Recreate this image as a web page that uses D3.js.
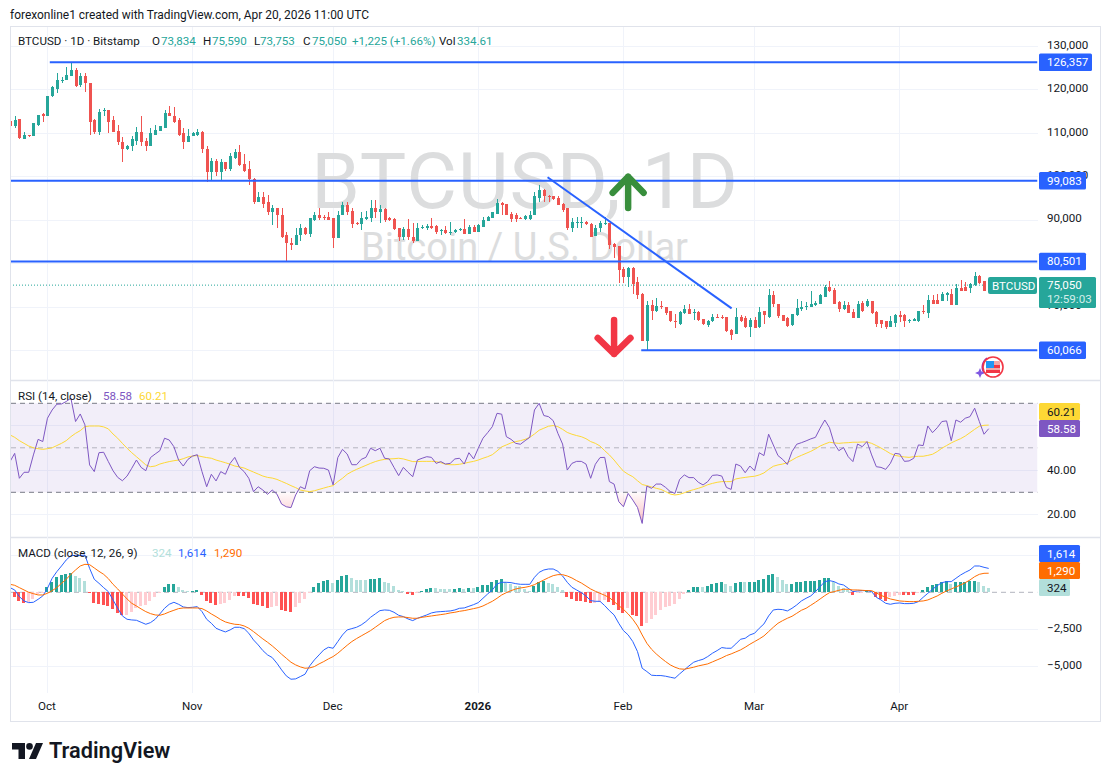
<!DOCTYPE html>
<html><head><meta charset="utf-8">
<script src="https://cdn.jsdelivr.net/npm/d3@7/dist/d3.min.js"></script>
<style>html,body{margin:0;padding:0;background:#fff}svg{display:block}text{font-family:Roboto,sans-serif;font-size:11.6px;fill:#131722}</style>
</head><body><svg id="c" width="1110" height="781"></svg>
<script>
// ---- DATA (prices in thousands of USD, one entry per daily bar) ----
const openK=[112.8,111.8,113.4,108.8,109.6,109.4,112.0,114.4,113.9,118.6,
120.3,122.2,122.2,123.3,124.7,121.2,123.3,121.7,113.0,110.4,
115.2,115.3,113.0,110.6,108.1,106.3,107.0,108.3,110.4,108.3,
107.2,109.7,110.6,111.3,114.6,114.1,113.0,110.0,108.1,109.3,
109.6,110.4,106.5,101.2,103.7,101.0,103.3,101.9,104.4,105.8,
103.0,101.7,99.6,94.3,95.4,94.1,91.8,92.9,91.3,86.5,
84.8,84.4,86.5,88.1,86.9,90.1,91.3,90.8,90.8,90.4,
86.0,91.2,93.5,92.2,89.3,89.2,90.3,90.6,92.8,92.0,
92.5,90.4,90.3,88.2,86.1,88.0,86.2,85.2,88.1,88.2,
88.7,88.7,87.5,87.8,87.2,87.2,87.8,88.0,86.9,88.5,
87.3,88.5,89.9,90.6,91.5,93.9,93.7,91.5,91.2,90.6,
90.3,90.3,91.2,95.2,97.0,95.6,95.6,95.2,93.8,92.7,
88.2,89.3,89.3,89.7,89.2,86.4,88.2,89.2,89.3,84.5,
84.1,78.8,76.9,78.9,75.8,73.0,62.3,70.4,69.0,70.2,
70.1,69.0,66.9,66.0,68.6,69.6,68.6,68.8,67.3,65.8,
66.7,67.8,67.8,67.6,64.8,63.7,67.8,67.5,65.3,67.1,
65.4,69.0,67.8,72.7,70.8,68.1,67.5,65.8,68.1,69.5,
70.0,70.1,70.4,70.8,72.4,74.7,74.0,71.1,69.6,70.4,
68.8,67.5,71.0,70.2,71.3,68.8,67.1,66.7,65.5,66.4,
68.2,68.2,66.9,66.9,66.8,69.1,68.6,71.7,71.7,71.5,
72.7,73.1,70.4,74.4,74.6,74.4,75.0,77.1,76.1,73.834];
const highK=[112.8,113.9,113.4,110.4,109.6,112.3,114.3,114.8,118.7,121.0,
124.0,122.9,125.2,126.3,125.1,123.9,123.8,121.7,113.4,115.7,
115.9,115.4,113.9,112.0,109.1,107.4,109.4,111.5,114.0,109.0,
111.2,112.0,111.8,115.4,116.3,116.0,113.6,111.3,111.0,110.4,
111.0,110.6,107.2,104.3,104.0,104.0,103.3,105.4,106.5,107.4,
105.3,103.7,99.8,96.4,96.4,95.9,93.6,92.9,92.9,87.4,
85.8,88.1,89.1,88.4,90.6,91.8,92.9,91.1,92.0,90.4,
92.2,94.1,94.1,92.8,89.7,92.0,92.1,94.7,94.7,93.5,
92.8,90.7,90.5,88.2,88.5,90.2,89.3,89.3,88.8,89.1,
90.6,88.9,88.0,88.7,89.5,88.0,88.2,90.2,88.9,88.9,
89.2,90.8,91.0,92.0,94.9,94.3,93.7,91.8,91.6,90.7,
91.2,92.2,96.5,98.1,97.1,95.8,95.6,95.5,93.9,92.8,
90.5,90.7,90.8,89.9,89.3,88.8,89.8,90.7,89.3,84.7,
84.1,79.2,79.2,79.2,76.9,73.2,71.5,71.6,72.1,71.5,
70.1,69.2,68.3,69.0,70.4,70.8,69.6,69.2,67.3,67.1,
68.3,68.3,68.1,67.6,65.0,69.8,68.1,68.0,67.5,67.7,
70.1,69.2,74.1,73.6,70.8,68.1,67.8,68.5,71.8,71.3,
71.1,73.8,71.3,73.1,75.1,75.9,74.4,71.5,71.3,71.1,
69.5,71.5,71.5,71.9,71.3,69.0,67.1,66.9,68.0,68.4,
69.2,68.3,67.3,67.5,69.1,70.4,72.7,72.7,73.1,73.4,
73.4,74.1,75.4,76.3,75.7,75.5,78.1,77.3,76.1,75.59];
const lowK=[111.8,111.2,108.6,108.6,109.1,109.3,111.6,112.7,113.9,118.3,
119.4,121.6,122.2,123.2,120.6,120.6,119.6,109.7,109.9,109.7,
113.9,110.0,110.2,107.4,103.5,106.2,106.0,107.4,107.2,106.0,
107.2,109.7,110.6,111.3,113.9,112.3,109.4,106.3,108.1,109.3,
109.5,105.4,98.8,99.0,100.2,99.0,101.4,101.4,104.2,102.4,
101.0,98.0,93.8,94.2,92.9,91.1,88.8,88.3,86.0,80.5,
83.2,84.4,85.1,86.5,86.2,89.9,90.1,90.1,90.1,83.7,
86.0,91.1,91.2,88.3,88.9,87.8,90.1,89.7,90.5,89.3,
89.5,89.8,87.8,85.3,85.5,85.5,84.7,85.2,87.9,87.8,
87.9,86.9,86.5,86.9,86.6,87.1,87.6,86.9,86.9,87.2,
87.2,88.5,89.8,90.5,91.4,91.3,91.2,89.5,89.7,90.3,
90.1,90.1,91.1,94.3,94.3,94.3,94.7,93.5,91.8,87.8,
87.4,88.2,88.2,88.9,86.1,86.4,87.4,88.9,83.3,81.2,
75.6,75.6,74.7,72.9,71.8,62.4,60.1,67.1,68.8,69.6,
68.1,66.5,65.1,65.8,68.4,68.3,67.1,66.9,65.8,65.5,
66.5,67.4,67.2,64.2,62.5,63.7,66.5,65.2,63.0,65.1,
65.2,66.0,67.5,70.0,67.5,66.8,65.5,65.7,68.0,69.0,
69.4,70.1,70.2,70.8,72.3,73.4,70.6,68.9,69.4,68.6,
67.4,67.4,68.9,70.1,68.5,65.4,65.2,64.9,65.5,65.5,
66.5,65.5,66.3,66.8,66.5,68.5,67.5,70.6,70.6,71.3,
71.5,70.4,70.4,73.8,73.7,73.2,74.8,75.4,73.7,73.753];
const closeK=[111.8,113.1,108.9,109.7,109.4,112.3,114.3,114.0,118.7,120.6,
122.2,122.4,123.5,124.7,121.0,123.3,121.6,112.7,110.4,115.0,
115.3,112.7,110.4,107.9,106.3,107.2,108.6,110.4,108.1,107.2,
110.0,110.8,111.6,114.6,113.9,112.7,109.7,108.1,109.5,110.0,
110.4,106.3,101.2,103.7,101.0,103.3,101.9,104.7,105.8,102.8,
101.4,99.4,94.3,95.4,93.8,91.8,92.9,91.1,86.2,84.8,
84.4,86.7,88.1,86.9,90.4,91.3,90.6,90.6,90.1,86.0,
91.3,93.5,92.0,89.2,89.2,90.5,90.8,92.8,92.0,92.5,
90.1,90.1,88.0,86.1,88.0,86.1,85.2,88.2,88.4,88.7,
88.3,87.4,87.8,87.0,87.4,87.8,88.0,86.9,88.5,87.3,
88.8,90.1,90.7,91.8,93.9,93.6,91.2,90.3,90.3,90.4,
91.0,91.2,95.5,97.0,95.5,95.4,94.9,93.5,92.4,88.2,
89.5,89.7,89.7,89.1,86.2,88.2,89.3,89.3,84.3,83.9,
78.6,76.9,78.9,75.3,72.8,62.3,70.4,69.1,70.2,70.0,
68.6,66.8,66.5,68.8,69.6,68.4,68.8,67.1,66.0,66.9,
67.8,67.6,67.5,64.5,63.6,67.8,66.9,65.5,67.1,65.2,
68.8,68.1,72.7,70.6,67.9,66.9,65.7,68.3,69.8,70.1,
70.2,70.8,71.0,72.7,74.7,73.6,70.8,69.6,70.4,68.6,
67.5,70.8,69.1,71.3,68.6,66.0,66.1,65.5,66.7,68.2,
67.7,66.7,67.1,67.3,69.1,68.8,71.7,70.8,70.8,72.9,
73.2,70.4,74.4,73.8,73.8,75.2,77.1,75.5,73.7,75.05];
const rsiValues=[43.8,47.5,36.3,39.0,39.0,46.8,53.8,52.8,63.3,67.0,
69.6,69.7,70.8,72.3,61.8,65.2,60.3,42.3,39.3,47.8,
48.0,43.8,39.7,36.7,35.2,37.3,40.8,44.5,41.2,39.7,
45.6,47.2,48.7,54.3,53.5,50.5,44.5,41.8,44.8,46.3,
46.9,39.3,32.5,38.1,35.1,39.3,38.1,43.0,45.7,41.2,
39.3,36.3,30.3,32.5,31.0,29.1,31.0,29.2,24.7,23.5,
23.1,28.8,32.5,31.5,39.7,41.5,40.9,40.8,40.0,33.3,
45.6,49.3,47.2,42.4,42.4,44.8,45.7,49.8,48.7,49.8,
45.3,45.0,41.2,37.5,41.2,39.0,37.0,44.5,45.3,46.0,
45.7,43.0,43.8,42.7,43.0,45.0,45.3,42.7,47.8,45.0,
49.8,54.3,56.8,59.5,65.5,65.1,55.0,53.8,52.0,51.6,
53.2,54.7,67.0,70.0,64.5,64.0,62.2,56.5,51.7,40.0,
43.0,43.9,43.9,42.7,36.3,42.6,45.6,45.7,34.8,33.7,
25.8,23.5,29.5,26.5,23.2,16.0,32.8,31.8,33.7,33.7,
32.2,30.3,29.5,35.8,37.8,36.6,36.6,34.5,33.3,34.8,
37.6,37.8,37.3,32.2,31.3,42.7,41.8,38.8,41.8,39.7,
47.8,46.5,56.1,51.3,46.5,44.8,42.5,48.3,51.6,52.3,
53.1,54.0,54.7,58.8,62.5,59.0,52.0,48.7,50.1,46.0,
43.8,51.7,50.5,52.8,46.8,41.5,41.2,40.3,43.0,47.5,
47.2,43.9,44.1,45.3,51.3,51.0,59.8,56.8,59.0,61.8,
62.1,53.2,62.5,61.5,63.3,64.0,67.8,61.8,56.1,58.58];
const rsiMa=[55.8,54.7,53.2,52.0,50.8,50.0,49.6,49.3,49.6,50.0,
51.0,52.0,53.2,55.0,56.5,57.7,59.5,59.8,59.8,59.8,
59.4,58.5,56.2,54.3,52.0,49.8,47.8,46.0,44.2,42.3,
41.5,41.8,42.7,43.3,43.8,44.2,44.5,45.1,45.9,46.3,
46.5,46.0,45.6,45.3,44.5,43.9,43.3,42.6,41.8,41.4,
40.9,40.0,39.1,38.2,37.3,36.7,36.4,35.8,34.9,34.0,
33.0,32.1,31.0,30.6,30.3,30.7,31.3,31.9,32.5,33.0,
34.8,36.3,38.1,39.3,40.3,41.2,42.1,43.0,43.8,44.4,
44.8,45.0,45.1,45.3,45.0,44.4,43.8,43.8,43.9,43.9,
43.9,43.8,43.3,42.6,42.4,42.4,42.6,43.0,43.5,43.9,
44.5,45.3,46.0,46.9,48.6,50.4,51.3,52.2,52.8,53.2,
53.8,54.7,56.2,57.9,58.8,59.7,60.0,59.5,58.3,56.9,
56.1,55.5,55.0,54.1,52.8,52.0,50.8,48.7,46.8,44.5,
41.9,39.5,38.1,37.0,35.2,33.5,33.0,32.4,31.8,31.3,
30.3,29.2,28.8,29.1,29.8,30.6,31.2,31.8,32.5,33.4,
34.0,34.5,34.8,34.8,34.8,36.0,36.4,36.7,37.0,37.2,
37.8,38.7,40.3,41.7,42.3,42.7,43.3,44.5,45.7,46.6,
47.5,48.4,49.5,50.8,51.7,52.5,52.2,52.0,52.2,52.3,
52.5,52.5,52.6,52.6,52.0,51.0,49.9,48.7,47.4,46.6,
46.2,45.9,45.7,46.0,46.2,46.2,46.6,47.1,48.3,49.8,
51.0,52.2,53.2,54.1,55.3,56.8,58.3,59.7,60.1,60.21];
const macdLine=[315,158,-293,-585,-698,-675,-473,-248,270,945,
1395,1778,2183,2475,2498,2475,2520,1620,878,608,
315,45,-518,-1080,-1598,-1823,-1868,-1890,-2025,-2160,
-2048,-1823,-1463,-1080,-810,-675,-810,-990,-1035,-1013,
-968,-1305,-1823,-2093,-2430,-2565,-2678,-2543,-2363,-2363,
-2453,-2768,-3218,-3555,-3938,-4230,-4410,-4793,-5243,-5648,
-5873,-5850,-5693,-5535,-4973,-4568,-4230,-3893,-3713,-3780,
-3330,-2880,-2543,-2453,-2363,-2205,-1980,-1688,-1463,-1238,
-1193,-1215,-1350,-1553,-1643,-1800,-1913,-1755,-1643,-1530,
-1395,-1328,-1305,-1283,-1260,-1193,-1080,-1058,-945,-833,
-698,-405,-113,158,563,675,675,653,585,540,
540,540,1013,1350,1508,1575,1575,1418,1103,675,
338,158,-23,-248,-563,-608,-608,-900,-1238,-1530,
-2093,-2588,-2880,-3330,-4005,-5130,-5355,-5603,-5625,-5625,
-5670,-5738,-5805,-5513,-5243,-4973,-4725,-4613,-4523,-4343,
-4118,-3938,-3735,-3780,-3780,-3488,-3173,-3105,-2880,-2768,
-2430,-2138,-1598,-1193,-1148,-1170,-1260,-1080,-855,-585,
-405,-248,45,383,720,788,720,563,495,270,
45,90,113,113,45,-338,-518,-743,-810,-743,
-720,-765,-765,-743,-630,-338,-68,203,450,653,
720,720,945,1170,1350,1508,1778,1778,1688,1614];
const signalLine=[540,473,315,158,0,-90,-180,-180,-68,113,
315,608,878,1215,1508,1778,1890,1868,1643,1418,
1215,923,540,225,-113,-450,-743,-923,-1125,-1305,
-1440,-1530,-1553,-1463,-1328,-1215,-1103,-1058,-1058,-1058,
-1058,-1103,-1260,-1463,-1643,-1845,-2003,-2093,-2160,-2183,
-2273,-2430,-2655,-2903,-3150,-3375,-3623,-3893,-4185,-4455,
-4725,-4905,-5040,-5130,-5108,-5018,-4838,-4680,-4500,-4343,
-4118,-3848,-3578,-3330,-3128,-2948,-2768,-2588,-2363,-2138,
-1913,-1778,-1688,-1665,-1665,-1710,-1755,-1755,-1688,-1643,
-1598,-1553,-1508,-1463,-1395,-1350,-1283,-1238,-1170,-1103,
-1035,-923,-765,-608,-405,-180,-23,113,225,293,
338,405,518,675,833,990,1125,1193,1193,1103,
968,788,630,428,225,68,-68,-203,-360,-630,
-900,-1148,-1463,-1823,-2273,-2880,-3443,-3848,-4163,-4433,
-4680,-4905,-5063,-5175,-5198,-5130,-5063,-4973,-4905,-4838,
-4703,-4568,-4433,-4275,-4163,-4028,-3893,-3713,-3510,-3330,
-3150,-2948,-2655,-2363,-2093,-1913,-1755,-1620,-1418,-1215,
-1080,-878,-675,-450,-225,-23,45,135,203,203,
158,158,135,113,113,-45,-203,-338,-450,-518,
-585,-608,-630,-630,-608,-585,-518,-383,-248,-68,
90,225,360,495,653,833,1058,1215,1283,1290];
const macdHist=[-225,-293,-563,-698,-675,-473,-135,-68,338,675,
1058,1170,1238,1305,1103,990,765,-45,-743,-788,
-855,-900,-1148,-1418,-1530,-1520,-1350,-1080,-900,-855,
-585,-338,-23,360,563,563,360,180,68,90,
158,-180,-608,-698,-855,-810,-698,-518,-248,-248,
-248,-405,-788,-855,-900,-1035,-968,-900,-1193,-1260,
-1328,-968,-743,-450,-23,360,653,765,833,630,
833,1103,1170,945,850,840,830,900,900,968,
675,660,428,158,90,-113,-180,-45,68,225,
293,270,248,225,210,225,293,203,293,280,
360,495,518,675,855,900,720,540,450,405,
248,90,405,675,743,653,563,338,158,-293,
-473,-563,-608,-675,-743,-730,-630,-495,-675,-855,
-1170,-1418,-1080,-1530,-1620,-2250,-2070,-1800,-1530,-1170,
-990,-900,-765,-428,-90,158,360,360,338,405,
540,608,675,563,450,653,720,698,698,698,
833,900,1170,1238,1035,855,585,585,720,720,
788,788,788,855,968,968,675,450,270,180,
-180,-68,-45,135,68,-338,-473,-563,-338,-225,
-158,-158,-158,-158,-45,180,338,495,563,675,
743,563,698,698,698,743,788,720,450,324];
const monthIndex=[9,40,70,101,132,160,191];
const monthLabels=["Oct","Nov","Dec","2026","Feb","Mar","Apr"];
const priceTicks=[130,120,110,100,90,70];
const rsiTicks=[40,20];
const macdTicks=[-2500,-5000];
const levelValues=[126.357,99.083,80.501,60.066];
const levelLabels=["126,357","99,083","80,501","60,066"];
const levelStart=[9.5,1,1,135.8];
const trendIdx=[115.8,155.1], trendPrice=[99.9,69.7];
const upArrow={i:133,tip:100.0,base:92.8,wingDays:3.3,wing:96.3};
const downArrow={i:130,tip:59.2,base:67.0,wingDays:3.5,wing:62.9};

// ---- LAYOUT ----
const L=10,R=1100,T=26,B=721,PR=1037.5,AX=1047;
const C={up:"#26a69a",dn:"#ef5350",blue:"#2962ff",grid:"#f0f3fa",frame:"#e0e3eb",rsi:"#7e57c2",ma:"#fdd835",or:"#ff6d00"};
const x=d3.scaleLinear().domain([1,210]).range([10,988.7]);
const y=d3.scaleLinear().domain([60,130]).range([350.5,46.5]);
const yR=d3.scaleLinear().domain([30,70]).range([492.3,403.3]);
const yM=d3.scaleLinear().domain([0,-5000]).range([592.3,666.3]);
const n=closeK.length, idx=d3.range(n);
const svg=d3.select("#c");
const defs=svg.append("defs");
[["main",T,380],["rsi",380,537],["macd",537,693]].forEach(([id,a,b])=>defs.append("clipPath").attr("id","clip-"+id).append("rect").attr("x",L+1).attr("y",a).attr("width",PR-L-1).attr("height",b-a));
const g1=defs.append("linearGradient").attr("id","gRed").attr("gradientUnits","userSpaceOnUse").attr("x1",0).attr("x2",0).attr("y1",yR(30)).attr("y2",yR(16));
g1.append("stop").attr("offset",0).attr("stop-color","#f23645").attr("stop-opacity",0.02);
g1.append("stop").attr("offset",1).attr("stop-color","#f23645").attr("stop-opacity",0.32);

// frame
const hline=(p,a,b,yy,col,w,dash)=>p.append("line").attr("x1",a).attr("x2",b).attr("y1",yy).attr("y2",yy).attr("stroke",col).attr("stroke-width",w||1).attr("stroke-dasharray",dash||null);
svg.append("rect").attr("x",L+.5).attr("y",T+.5).attr("width",R-L).attr("height",B-T).attr("fill","none").attr("stroke",C.frame);
hline(svg,L,R,380.5,C.frame,1.5); hline(svg,L,R,537.5,C.frame,1.5);

// grid
const grid=svg.append("g").attr("shape-rendering","crispEdges");
monthIndex.forEach(d=>grid.append("line").attr("x1",x(d)).attr("x2",x(d)).attr("y1",T+1).attr("y2",693).attr("stroke",C.grid));
d3.range(60,131,10).forEach(v=>hline(grid,L+1,PR,y(v),C.grid));
[20,40,60].forEach(v=>hline(grid,L+1,PR,yR(v),C.grid));
[2500,-2500,-5000].forEach(v=>hline(grid,L+1,PR,yM(v),C.grid));

// watermark
svg.append("text").attr("x",525).attr("y",208).attr("text-anchor","middle").style("font-size","78px").style("fill","#dcddde").style("letter-spacing","1px").text("BTCUSD, 1D");
svg.append("text").attr("x",524.5).attr("y",260).attr("text-anchor","middle").style("font-size","38px").style("fill","#dcddde").text("Bitcoin / U.S. Dollar");

// main pane
const pm=svg.append("g").attr("clip-path","url(#clip-main)");
hline(pm,L,PR,y(closeK[n-1]),C.up,1,"1,2");
const cand=pm.append("g").attr("shape-rendering","crispEdges").selectAll("g").data(idx).join("g")
  .attr("fill",i=>closeK[i]>=openK[i]?C.up:C.dn);
cand.append("rect").attr("x",i=>Math.round(x(i+1))).attr("width",1).attr("y",i=>y(highK[i])).attr("height",i=>y(lowK[i])-y(highK[i]));
cand.append("rect").attr("x",i=>Math.round(x(i+1))-1).attr("width",3).attr("y",i=>y(Math.max(openK[i],closeK[i]))).attr("height",i=>Math.max(1,Math.abs(y(openK[i])-y(closeK[i]))));
levelValues.forEach((v,i)=>pm.append("line").attr("x1",x(levelStart[i])).attr("x2",PR).attr("y1",y(v)).attr("y2",y(v)).attr("stroke",C.blue).attr("stroke-width",2));
pm.append("line").attr("x1",x(trendIdx[0])).attr("y1",y(trendPrice[0])).attr("x2",x(trendIdx[1])).attr("y2",y(trendPrice[1])).attr("stroke",C.blue).attr("stroke-width",2);
const arrow=(a,col)=>{pm.append("path").attr("fill","none").attr("stroke",col).attr("stroke-width",6.5).attr("stroke-linecap","round").attr("stroke-linejoin","round")
  .attr("d",`M${x(a.i)},${y(a.base)}L${x(a.i)},${y(a.tip)}M${x(a.i-a.wingDays)},${y(a.wing)}L${x(a.i)},${y(a.tip)}L${x(a.i+a.wingDays)},${y(a.wing)}`);};
arrow(upArrow,"#388e3c"); arrow(downArrow,"#f23645");

// RSI pane
const pr=svg.append("g").attr("clip-path","url(#clip-rsi)");
pr.append("rect").attr("x",L+1).attr("width",PR-L-1).attr("y",yR(70)).attr("height",yR(30)-yR(70)).attr("fill","#7e57c2").attr("fill-opacity",0.1);
// oversold shading: area between the RSI line and the 30 level, kept below the level
defs.append("clipPath").attr("id","clip-os").append("rect").attr("x",L).attr("width",PR-L).attr("y",yR(30)).attr("height",60);
pr.append("g").attr("clip-path","url(#clip-os)").append("path").attr("fill","url(#gRed)").attr("d",d3.area().x(i=>x(i+1)).y0(yR(30)).y1(i=>yR(rsiValues[i]))(idx));
hline(pr,L+1,PR,yR(70),"#787b86",1,"5,4");
hline(pr,L+1,PR,yR(50),"#787b86",1,"5,4").attr("stroke-opacity",.5);
hline(pr,L+1,PR,yR(30),"#787b86",1,"5,4");
const lineOf=(arr,sc)=>d3.line().x(i=>x(i+1)).y(i=>sc(arr[i]))(idx);
pr.append("path").attr("d",lineOf(rsiMa,yR)).attr("fill","none").attr("stroke",C.ma).attr("stroke-width",1);
pr.append("path").attr("d",lineOf(rsiValues,yR)).attr("fill","none").attr("stroke",C.rsi).attr("stroke-width",1);

// MACD pane
const pc=svg.append("g").attr("clip-path","url(#clip-macd)");
hline(pc,L+1,PR,yM(0),"#b2b5be",1,"5,4");
const histCol=i=>{const v=macdHist[i],p=i?macdHist[i-1]:v; return v>=0?(v>=p?"#26a69a":"#b2dfdb"):(v>p?"#ffcdd2":"#ff5252");};
pc.append("g").attr("shape-rendering","crispEdges").selectAll("rect").data(idx).join("rect")
  .attr("x",i=>Math.round(x(i+1))-2).attr("width",3)
  .attr("y",i=>Math.min(yM(0),yM(macdHist[i]))).attr("height",i=>Math.abs(yM(macdHist[i])-yM(0))).attr("fill",histCol);
pc.append("path").attr("d",lineOf(macdLine,yM)).attr("fill","none").attr("stroke",C.blue).attr("stroke-width",1);
pc.append("path").attr("d",lineOf(signalLine,yM)).attr("fill","none").attr("stroke",C.or).attr("stroke-width",1);

// axes
const styleAxis=g=>{g.select(".domain").remove();g.selectAll("line").remove();g.selectAll("text").style("fill","#131722");};
const fmt=d3.format(",");
svg.append("g").attr("transform",`translate(${AX},-2)`).call(d3.axisRight(y).tickValues(priceTicks).tickSize(0).tickPadding(0).tickFormat(v=>fmt(v*1000))).call(styleAxis);
svg.append("g").attr("transform",`translate(${AX},-0.4)`).call(d3.axisRight(yR).tickValues(rsiTicks).tickSize(0).tickPadding(0).tickFormat(d3.format(".2f"))).call(styleAxis);
svg.append("g").attr("transform",`translate(${AX},-2)`).call(d3.axisRight(yM).tickValues(macdTicks).tickSize(0).tickPadding(0).tickFormat(v=>"\u2212"+fmt(-v))).call(styleAxis);
svg.append("g").attr("transform","translate(-1,693)").call(d3.axisBottom(x).tickValues(monthIndex).tickSize(0).tickPadding(8.5).tickFormat((d,i)=>monthLabels[i])).call(styleAxis)
  .selectAll("text").style("font-weight",(d,i)=>monthLabels[i]==="2026"?700:400);

// axis value labels
const box=(yc,w,h,col,txt,tc,lx)=>{svg.append("rect").attr("x",lx||1039).attr("y",yc-h/2).attr("width",w).attr("height",h).attr("fill",col).attr("rx",1.5);
  svg.append("text").attr("x",(lx||1039)+8).attr("y",yc+4).style("fill",tc).text(txt);};
levelValues.forEach((v,i)=>box(y(v),i?47:53,17.5,C.blue,levelLabels[i],"#fff"));
svg.append("rect").attr("x",1039).attr("y",277).attr("width",57).attr("height",31).attr("fill",C.up).attr("rx",1.5);
svg.append("text").attr("x",1047).attr("y",289).style("fill","#fff").text("75,050");
svg.append("text").attr("x",1047).attr("y",303).style("fill","#d4eeeb").text("12:59:03");
svg.append("rect").attr("x",988).attr("y",277).attr("width",49).attr("height",17).attr("fill",C.up).attr("rx",2);
svg.append("text").attr("x",992).attr("y",289.5).style("fill","#fff").text("BTCUSD");
box(411.5,41,17,C.ma,"60.21","#131722");
box(428.5,41,17,C.rsi,"58.58","#fff");
box(553.5,41,17,C.blue,"1,614","#fff");
box(570.5,41,17,C.or,"1,290","#fff");
box(587.5,31,17,"#b2dfdb","324","#131722");

// legends
const legend=(yy,items)=>items.forEach(([tx,px,col])=>svg.append("text").attr("x",px).attr("y",yy).style("fill",col).text(tx));
const gr=C.up;
legend(45,[["BTCUSD \u00b7 1D \u00b7 Bitstamp",18,"#131722"],["O",152,"#131722"],["73,834",161,gr],["H",203,"#131722"],["75,590",212,gr],["L",254,"#131722"],["73,753",260,gr],["C",303,"#131722"],["75,050",312,gr],["+1,225 (+1.66%)",352,gr],["Vol",439,"#131722"],["334.61",457,gr]]);
legend(400,[["RSI (14, close)",18,"#131722"],["58.58",103,C.rsi],["60.21",139,C.ma]]);
legend(557,[["MACD (close, 12, 26, 9)",18,"#131722"],["324",152,"#b2dfdb"],["1,614",178,C.blue],["1,290",214,C.or]]);
svg.append("text").attr("x",10).attr("y",19).style("font-size","11.95px").text("forexonline1 created with TradingView.com, Apr 20, 2026 11:00 UTC");

// flag badge
const f=svg.append("g").attr("transform","translate(993,367)");
f.append("path").attr("d","M-6,-9A11,11 0 0 0 -9,6").attr("fill","none").attr("stroke","#9c27b0").attr("stroke-width",1.5);
f.append("path").attr("d","M-13,1L-11.5,4.5L-8,6L-11.5,7.5L-13,11L-14.5,7.5L-18,6L-14.5,4.5Z").attr("fill","#7e57e2");
f.append("circle").attr("r",10).attr("fill","#fff").attr("stroke","#f23645").attr("stroke-width",1.6);
f.append("rect").attr("x",-7).attr("y",-6).attr("width",14).attr("height",12).attr("rx",1).attr("fill","#f4a7a7");
f.append("rect").attr("x",-7).attr("y",-6).attr("width",8).attr("height",7).attr("fill","#2196f3");
f.append("rect").attr("x",1).attr("y",-2).attr("width",6).attr("height",3).attr("fill","#f23645");
f.append("rect").attr("x",-7).attr("y",3).attr("width",14).attr("height",3).attr("fill","#f23645");

// logo
const lg=svg.append("g").attr("transform","translate(12,743)").attr("fill","#131722");
lg.append("path").attr("d","M0,0H13V16H6.5V6.5H0Z");
lg.append("circle").attr("cx",17.5).attr("cy",3.4).attr("r",3.3);
lg.append("path").attr("d","M24,0H31L24,16H17Z");
svg.append("text").attr("x",49).attr("y",758).style("font-size","21.7px").style("font-weight",600).text("TradingView");
</script></body></html>
